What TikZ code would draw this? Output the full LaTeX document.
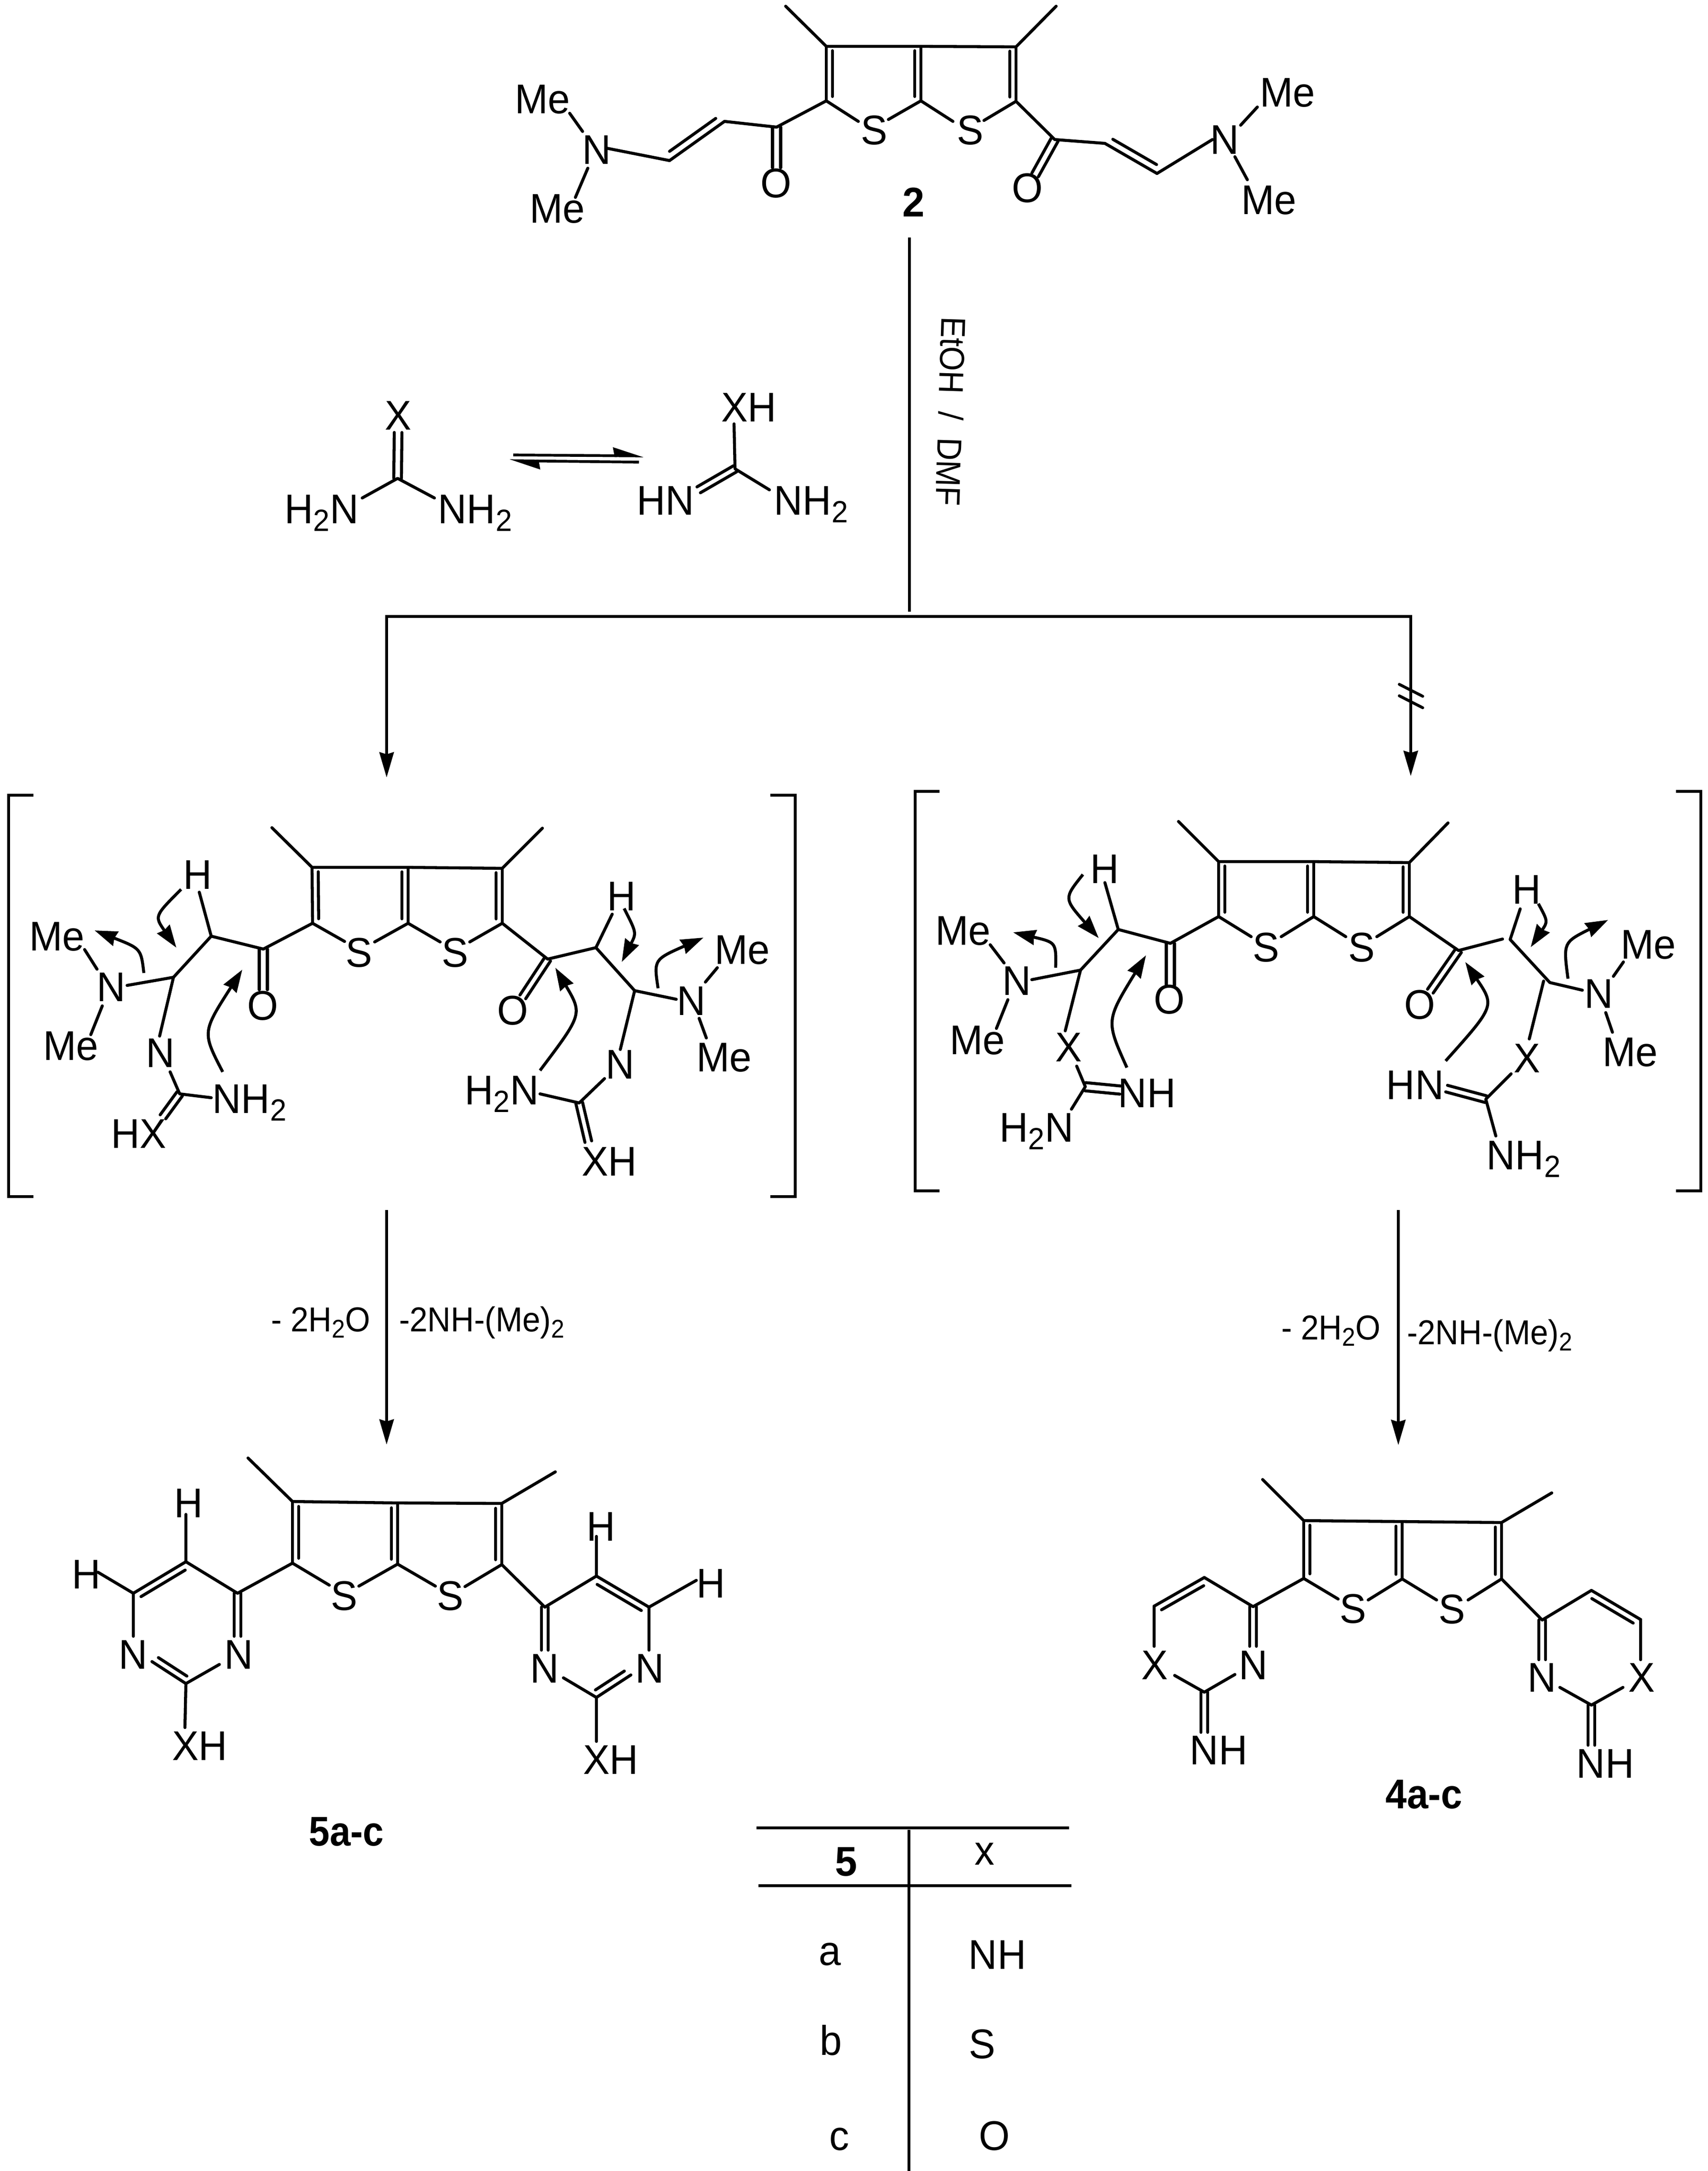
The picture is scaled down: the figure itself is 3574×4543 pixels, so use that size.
\documentclass[tikz,border=0pt]{standalone}
\usepackage{fontspec}
\usepackage{graphicx}
\setmainfont[FakeStretch=0.96]{Liberation Sans}
\usetikzlibrary{calc,arrows.meta}
\newcommand\sbt[1]{\raisebox{-.19em}{\scalebox{.74}{#1}}}
\newcommand\dbl[3]{\draw[bond] (#1) -- (#2);\draw[bond] ($(#1)!.08!(#2)!#3!90:(#2)$) -- ($(#2)!.08!(#1)!#3!-90:(#1)$);}
\newcommand\dsym[3]{\draw[bond] ($(#1)!#3!90:(#2)$) -- ($(#2)!#3!-90:(#1)$) ($(#1)!#3!-90:(#2)$) -- ($(#2)!#3!90:(#1)$);}
\newcommand\pts[1]{\foreach \n/\x/\y in {#1}{\coordinate (\n) at (\x,\y);}}
\newcommand\core[1]{%
  \node[lab] (#1Sa) at (#1S1) {S};
  \node[lab] (#1Sb) at (#1S2) {S};
  \draw[bond] (#1M1) -- (#1C3) -- (#1T) -- (#1C4) -- (#1M2);
  \dbl{#1C3}{#1C2}{0.09cm}
  \dbl{#1T}{#1B}{-0.09cm}
  \dbl{#1C4}{#1C5}{-0.09cm}
  \draw[bond] (#1C2) -- (#1s1) (#1s2) -- (#1B) -- (#1s3) (#1s4) -- (#1C5);
}
\tikzset{
  bond/.style={line width=0.044cm,line cap=round,line join=round},
  rule/.style={line width=0.042cm},
  lab/.style={font=\fontsize{17.3}{20}\selectfont,text height=.42cm,text depth=0pt,inner sep=0pt,anchor=center},
  boldlab/.style={lab,font=\fontsize{17.3}{20}\selectfont\bfseries},
  tab/.style={font=\fontsize{17.3}{20}\selectfont,inner sep=0pt,anchor=base},
  rxn/.style={font=\fontsize{14.43}{17}\selectfont,inner sep=0pt,anchor=base west},
  main/.style={rule,-{Stealth[length=.37cm,width=.21cm,inset=.03cm]}},
  curly/.style={bond,line cap=butt,-{Stealth[length=.33cm,width=.22cm,inset=.02cm]}},
  halfarr/.style={line width=0.04cm,-{Stealth[harpoon,length=.385cm,width=.24cm,inset=.02cm]}},
}
\begin{document}
\begin{tikzpicture}[x=0.007cm,y=-0.007cm]
\useasboundingbox (0,0) rectangle (3574,4543);
% ---------- compound 2
\pts{tM1/1644/13,tC3/1729/97,tT/1927/97,tC4/2126/98,tM2/2210/13,tC2/1729/211,tB/1927/211,tC5/2126/212,tS1/1829/272,tS2/2030/272,ts1/1796/254,ts2/1859/250,ts3/1994/254,ts4/2059/252,
tCO/1625/266,tOe/1625/351,tCH/1516/254,tCD/1401/336,tNe/1269/310,ta1/1192/237,ta2/1219/275,ta3/1230/352,ta4/1204/413,
tCOr/2207/292,tOr/2166/366,tCHr/2312/300,tCDr/2421/363,tNf/2537/292,tb1/2631/224,tb2/2596/262,tb3/2584/328,tb4/2610/376}
\core{t}
\node[lab] (tN) at (1249,313) {N};
\node[lab] (tMe1) at (1135,207) {Me};
\node[lab] (tMe2) at (1166,436) {Me};
\node[lab] (tO) at (1624,383) {O};
\node[lab] (tOO) at (2150,393) {O};
\node[lab] (tNN) at (2563,292) {N};
\node[lab] (tMe3) at (2694,193) {Me};
\node[lab] (tMe4) at (2655,418) {Me};
\node[boldlab] (tnum) at (1912,423) {2};
\draw[bond] (tC2) -- (tCO) -- (tCH) (tCD) -- (tNe) (ta1) -- (ta2) (ta3) -- (ta4);
\dsym{tCO}{tOe}{0.06cm}
\dbl{tCH}{tCD}{-0.11cm}
\draw[bond] (tC5) -- (tCOr) -- (tCHr) (tCDr) -- (tNf) (tb1) -- (tb2) (tb3) -- (tb4);
\dsym{tCOr}{tOr}{0.055cm}
\dbl{tCHr}{tCDr}{0.11cm}
% ---------- main reaction lines
\pts{mS/1903/497,mE/1903/1280,hL/809/1290,hR/2952/1290,hLt/809/1627,hRt/2952/1624,st1/2928/1432,st2/2977/1457,st3/2928/1456,st4/2977/1481,
dLs/809/2532,dLt/809/3023,dRs/2926/2532,dRt/2926/3024}
\draw[rule] (mS) -- (mE);
\draw[rule,line cap=rect] (hL) -- (hR);
\draw[main] (hL) -- (hLt);
\draw[main] (hR) -- (hRt);
\draw[rule,line cap=round] (st1) -- (st2) (st3) -- (st4);
\draw[main] (dLs) -- (dLt);
\draw[main] (dRs) -- (dRt);
\node[font=\fontsize{14.43}{17}\selectfont,rotate=-91.8,inner sep=0pt] (cond) at (1990,861) {\scalebox{.95}[1]{EtOH\ \ /\ \ DMF}};
\node[rxn] (l1) at (566,2786) {\scalebox{.97}[1]{- 2H\sbt{2}O}};
\node[rxn] (l2) at (834,2786) {\scalebox{.97}[1]{-2NH-(Me)\sbt{2}}};
\node[rxn] (l3) at (2680,2803) {\scalebox{.97}[1]{- 2H\sbt{2}O}};
\node[rxn] (l4) at (2943,2813) {\scalebox{.97}[1]{-2NH-(Me)\sbt{2}}};
% ---------- thiourea tautomers
\pts{uC/832/1001,uX/833/905,uL/758/1042,uR/909/1042,vC/1538/981,vX/1536/887,vR/1610/1025,vL/1462/1025,eq1/1074/952,eq2/1347/954,eq3/1337/967,eq4/1066/964}
\node[lab] (uXl) at (833,869) {X};
\node[lab] (uNl) at (673,1065) {H\sbt{2}N};
\node[lab] (uNr) at (994,1065) {NH\sbt{2}};
\node[lab] (vXl) at (1567,852) {XH};
\node[lab] (vNl) at (1393,1047) {HN};
\node[lab] (vNr) at (1697,1047) {NH\sbt{2}};
\dsym{uC}{uX}{0.056cm}
\draw[bond] (uL) -- (uC) -- (uR) (vX) -- (vC) -- (vR);
\dsym{vC}{vL}{0.05cm}
\draw[halfarr] (eq1) -- (eq2);
\draw[halfarr] (eq3) -- (eq4);
% ---------- left bracketed intermediate
\pts{lBa/70/1664,lBb/18/1664,lBc/18/2504,lBd/70/2504,lBe/1612/1664,lBf/1664/1664,lBg/1664/2504,lBh/1612/2504,
lM1/569/1732,lC3/653/1815,lT/854/1815,lC4/1051/1817,lM2/1135/1733,lC2/654/1932,lB/854/1932,lC5/1051/1932,lS1/751/1993,lS2/952/1993,ls1/721/1970,ls2/784/1971,ls3/921/1971,ls4/983/1971,
lCO/551/1986,lOe/551/2071,lCH/442/1959,lHe/417/1867,lCN/363/2045,lNe/266/2062,la1/177/1987,la2/203/2028,la3/214/2105,la4/190/2165,lNd/334/2168,lNu/356/2243,lG/376/2289,lGn/442/2297,lGx/341/2337,
lCOr/1146/2007,lOr/1094/2086,lCHr/1247/1983,lHr/1281/1913,lCNr/1328/2073,lNf/1415/2091,lb1/1501/2025,lb2/1476/2055,lb3/1463/2131,lb4/1478/2172,lNg/1298/2196,lNv/1265/2257,lGr/1212/2308,lGm/1130/2289,lGy/1231/2389,
lAs/301/2036,lAc/295/1985,lAe/198/1947,lDs/379/1861,lDc/323/1917,lDe/369/1983,lEs/466/2243,lEc/423/2160,lEe/507/2029,
lFs/1306/1901,lFc/1332/1952,lFe/1301/2013,lKs/1377/2068,lKc/1368/2008,lKe/1472/1962,lLs/1130/2240,lLc/1219/2122,lLe/1162/2025}
\draw[rule,line join=miter] (lBa) -- (lBb) -- (lBc) -- (lBd);
\draw[rule,line join=miter] (lBe) -- (lBf) -- (lBg) -- (lBh);
\core{l}
\node[lab] (lH) at (414,1830) {H};
\node[lab] (lN) at (233,2065) {N};
\node[lab] (lMe1) at (119,1959) {Me};
\node[lab] (lMe2) at (148,2188) {Me};
\node[lab] (lO) at (550,2104) {O};
\node[lab] (lNb) at (336,2203) {N};
\node[lab] (lNH) at (522,2299) {NH\sbt{2}};
\node[lab] (lHX) at (290,2372) {HX};
\node[lab] (lOO) at (1073,2114) {O};
\node[lab] (lHH) at (1301,1875) {H};
\node[lab] (lNN) at (1447,2094) {N};
\node[lab] (lMe3) at (1553,1987) {Me};
\node[lab] (lMe4) at (1515,2212) {Me};
\node[lab] (lNc) at (1298,2227) {N};
\node[lab] (lHN) at (1050,2281) {H\sbt{2}N};
\node[lab] (lXH) at (1275,2430) {XH};
\draw[bond] (lC2) -- (lCO) -- (lCH) -- (lHe) (lCH) -- (lCN) -- (lNe) (la1) -- (la2) (la3) -- (la4) (lCN) -- (lNd) (lNu) -- (lG) -- (lGn);
\dsym{lCO}{lOe}{0.06cm}
\dsym{lG}{lGx}{0.05cm}
\draw[bond] (lC5) -- (lCOr) -- (lCHr) -- (lHr) (lCHr) -- (lCNr) -- (lNf) (lb1) -- (lb2) (lb3) -- (lb4) (lCNr) -- (lNg) (lNv) -- (lGr) -- (lGm);
\dsym{lCOr}{lOr}{0.05cm}
\dsym{lGr}{lGy}{0.05cm}
\draw[curly] (lAs) .. controls (lAc) .. (lAe);
\draw[curly] (lDs) .. controls (lDc) .. (lDe);
\draw[curly] (lEs) .. controls (lEc) .. (lEe);
\draw[curly] (lFs) .. controls (lFc) .. (lFe);
\draw[curly] (lKs) .. controls (lKc) .. (lKe);
\draw[curly] (lLs) .. controls (lLc) .. (lLe);
% ---------- right bracketed intermediate
\pts{rBa/1966/1656,rBb/1915/1656,rBc/1915/2492,rBd/1966/2492,rBe/3507/1656,rBf/3559/1656,rBg/3559/2492,rBh/3507/2492,
rM1/2466/1719,rC3/2550/1803,rT/2749/1803,rC4/2949/1805,rM2/3030/1722,rC2/2550/1918,rB/2749/1918,rC5/2949/1918,rS1/2649/1982,rS2/2849/1982,rs1/2618/1960,rs2/2681/1960,rs3/2816/1960,rs4/2881/1960,
rCO/2449/1974,rOe/2449/2062,rCH/2340/1945,rHe/2312/1847,rCN/2261/2030,rNe/2159/2050,ra1/2072/1977,ra2/2101/2015,ra3/2109/2092,ra4/2085/2152,rXd/2229/2157,rXu/2253/2231,rG/2271/2274,rGn/2344/2281,rGb/2242/2321,
rCOr/3052/1989,rOr/2993/2074,rGc/3144/1965,rCHr/3160/1966,rHr/3181/1902,rCNr/3243/2056,rNf/3311/2072,rb1/3397/2013,rb2/3376/2043,rb3/3360/2119,rb4/3374/2160,rXg/3200/2174,rCNs/3230/2053,rXv/3162/2247,rGr/3109/2300,rGm/3027/2278,rGy/3130/2377,
rAs/2209/2025,rAc/2210/1972,rAe/2120/1951,rDs/2266/1830,rDc/2226/1880,rDe/2299/1963,rEs/2358/2234,rEc/2314/2136,rEe/2398/1999,
rFs/3219/1891,rFc/3239/1928,rFe/3203/1982,rKs/3281/2048,rKc/3271/1972,rKe/3365/1925,rLs/3025/2220,rLc/3128/2105,rLe/3066/2013}
\draw[rule,line join=miter] (rBa) -- (rBb) -- (rBc) -- (rBd);
\draw[rule,line join=miter] (rBe) -- (rBf) -- (rBg) -- (rBh);
\core{r}
\node[lab] (rH) at (2312,1818) {H};
\node[lab] (rN) at (2128,2052) {N};
\node[lab] (rMe1) at (2015,1947) {Me};
\node[lab] (rMe2) at (2045,2176) {Me};
\node[lab] (rO) at (2447,2091) {O};
\node[lab] (rX) at (2236,2191) {X};
\node[lab] (rNH) at (2400,2287) {NH};
\node[lab] (rHN) at (2169,2359) {H\sbt{2}N};
\node[lab] (rOO) at (2971,2102) {O};
\node[lab] (rHH) at (3195,1861) {H};
\node[lab] (rNN) at (3346,2079) {N};
\node[lab] (rMe3) at (3449,1976) {Me};
\node[lab] (rMe4) at (3411,2201) {Me};
\node[lab] (rXX) at (3195,2214) {X};
\node[lab] (rHNb) at (2961,2270) {HN};
\node[lab] (rNHb) at (3188,2417) {NH\sbt{2}};
\draw[bond] (rC2) -- (rCO) -- (rCH) -- (rHe) (rCH) -- (rCN) -- (rNe) (ra1) -- (ra2) (ra3) -- (ra4) (rCN) -- (rXd) (rXu) -- (rG) -- (rGb);
\dsym{rCO}{rOe}{0.06cm}
\dsym{rG}{rGn}{0.06cm}
\draw[bond] (rC5) -- (rCOr) -- (rGc) (rCHr) -- (rHr) (rCHr) -- (rCNr) -- (rNf) (rb1) -- (rb2) (rb3) -- (rb4) (rCNs) -- (rXg) (rXv) -- (rGr) -- (rGy);
\dsym{rCOr}{rOr}{0.05cm}
\dsym{rGr}{rGm}{0.05cm}
\draw[curly] (rAs) .. controls (rAc) .. (rAe);
\draw[curly] (rDs) .. controls (rDc) .. (rDe);
\draw[curly] (rEs) .. controls (rEc) .. (rEe);
\draw[curly] (rFs) .. controls (rFc) .. (rFe);
\draw[curly] (rKs) .. controls (rKc) .. (rKe);
\draw[curly] (rLs) .. controls (rLc) .. (rLe);
% ---------- product 5a-c
\pts{pM1/519/3051,pC3/612/3142,pT/832/3145,pC4/1050/3146,pM2/1162/3080,pC2/612/3271,pB/832/3273,pC5/1050/3274,pS1/720/3339,pS2/942/3339,ps1/689/3317,ps2/751/3319,ps3/911/3319,ps4/973/3320,
pa4/497/3334,pa5/389/3268,pa6/279/3334,pHa/205/3290,pHb/389/3169,pN1/279/3424,pN3/497/3424,pa2/389/3523,pN1c/318/3477,pN3c/459/3483,pXe/387/3615,
pb4/1140/3363,pb5/1248/3298,pb6/1358/3363,pHc/1457/3307,pHd/1248/3215,pN4/1140/3453,pN6/1358/3453,pb2/1248/3552,pN4c/1179/3511,pN6c/1320/3505,pYe/1248/3644}
\core{p}
\node[lab] (pHl) at (181,3294) {H};
\node[lab] (pHt) at (395,3145) {H};
\node[lab] (pNa) at (279,3462) {N};
\node[lab] (pNb) at (500,3462) {N};
\node[lab] (pXH) at (418,3653) {XH};
\node[lab] (pHr) at (1488,3313) {H};
\node[lab] (pHu) at (1258,3194) {H};
\node[lab] (pNc) at (1140,3491) {N};
\node[lab] (pNd) at (1360,3491) {N};
\node[lab] (pYH) at (1278,3682) {XH};
\node[boldlab] (pnum) at (725,3832) {\scalebox{.94}[1]{5a-c}};
\draw[bond] (pC2) -- (pa4) -- (pa5) (pa6) -- (pHa) (pa5) -- (pHb) (pa6) -- (pN1) (pN3c) -- (pa2) -- (pXe);
\dbl{pa5}{pa6}{0.1cm}
\dsym{pa4}{pN3}{0.05cm}
\dbl{pa2}{pN1c}{-0.1cm}
\draw[bond] (pC5) -- (pb4) -- (pb5) (pb6) -- (pHc) (pb5) -- (pHd) (pb6) -- (pN6) (pN4c) -- (pb2) -- (pYe);
\dbl{pb5}{pb6}{-0.1cm}
\dsym{pb4}{pN4}{0.05cm}
\dbl{pb2}{pN6c}{0.1cm}
% ---------- product 4a-c
\pts{qM1/2642/3096,qC3/2728/3182,qT/2934/3184,qC4/3142/3186,qM2/3247/3124,qC2/2728/3303,qB/2934/3304,qC5/3142/3304,qS1/2831/3366,qS2/3038/3367,qs1/2800/3346,qs2/2863/3348,qs3/3006/3348,qs4/3072/3348,
qa4/2622/3362,qa5/2520/3301,qa6/2415/3361,qXa/2415/3445,qNa/2622/3445,qa2/2520/3541,qXc/2458/3506,qNc/2584/3504,qNe/2520/3625,
qb4/3227/3390,qb5/3330/3328,qb6/3433/3389,qXb/3433/3473,qNb/3227/3473,qb2/3330/3568,qXd/3396/3531,qNd/3264/3531,qNf/3330/3652}
\core{q}
\node[lab] (qX) at (2416,3484) {X};
\node[lab] (qN) at (2623,3484) {N};
\node[lab] (qNH) at (2550,3662) {NH};
\node[lab] (qXX) at (3435,3510) {X};
\node[lab] (qNN) at (3227,3510) {N};
\node[lab] (qNHb) at (3359,3690) {NH};
\node[boldlab] (qnum) at (2980,3754) {\scalebox{.96}[1]{4a-c}};
\draw[bond] (qC2) -- (qa4) -- (qa5) (qa6) -- (qXa) (qXc) -- (qa2) -- (qNc);
\dbl{qa5}{qa6}{0.1cm}
\dsym{qa4}{qNa}{0.05cm}
\dsym{qa2}{qNe}{0.05cm}
\draw[bond] (qC5) -- (qb4) -- (qb5) (qb6) -- (qXb) (qXd) -- (qb2) -- (qNd);
\dbl{qb5}{qb6}{-0.1cm}
\dsym{qb4}{qNb}{0.05cm}
\dsym{qb2}{qNf}{0.05cm}
% ---------- table
\pts{ta/1583/3825,tb/2237/3825,tc/1587/3946,td/2242/3946,te/1902/3829,tf/1902/4543}
\draw[line width=.036cm] (ta) -- (tb) (tc) -- (td) (te) -- (tf);
\node[tab,font=\fontsize{17.3}{20}\selectfont\bfseries] (t5) at (1771,3925) {5};
\node[tab] (tx) at (2060,3902) {x};
\node[tab] (tra) at (1737,4112) {a};
\node[tab] (trb) at (1739,4300) {b};
\node[tab] (trc) at (1756,4499) {c};
\node[tab] (tnh) at (2087,4120) {NH};
\node[tab] (tsu) at (2055,4307) {S};
\node[tab] (tox) at (2081,4499) {O};
\end{tikzpicture}
\end{document}
